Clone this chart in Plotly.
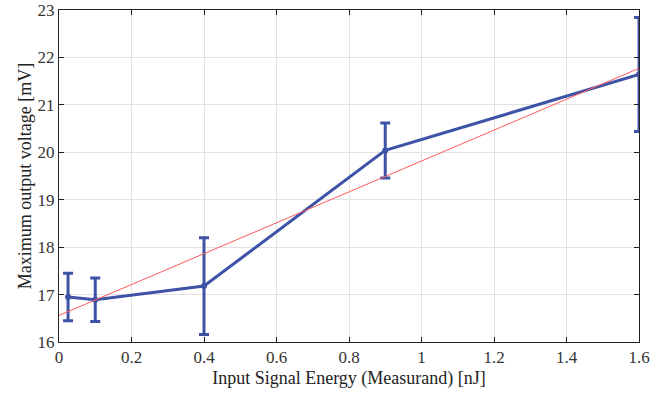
import plotly.graph_objects as go

energy = [0.025, 0.1, 0.4, 0.9, 1.6]
voltage = [16.95, 16.89, 17.18, 20.04, 21.64]
err = [0.5, 0.46, 1.02, 0.58, 1.2]
fit_x = [0.0, 1.6]
fit_y = [16.56, 21.77]
x_ticks = [0, 0.2, 0.4, 0.6, 0.8, 1.0, 1.2, 1.4, 1.6]
x_labels = ["0", "0.2", "0.4", "0.6", "0.8", "1", "1.2", "1.4", "1.6"]
y_ticks = [16, 17, 18, 19, 20, 21, 22, 23]

blue = "rgb(62,82,166)"
fig = go.Figure()
fig.add_trace(go.Scatter(
    x=energy, y=voltage, mode="lines+markers",
    line=dict(color=blue, width=3),
    marker=dict(color=blue, size=6),
    error_y=dict(type="data", array=err, visible=True, color=blue, thickness=3, width=5),
    showlegend=False))
fig.add_trace(go.Scatter(
    x=fit_x, y=fit_y, mode="lines",
    line=dict(color="rgb(255,90,90)", width=1), showlegend=False))

axis_common = dict(
    showline=True, linecolor="#222", linewidth=1, mirror="ticks",
    ticks="inside", ticklen=5, tickcolor="#222",
    showgrid=True, gridcolor="#e2e2e2", gridwidth=1, zeroline=False,
    automargin=False,
    tickfont=dict(family="Liberation Serif", size=17, color="#333"),
)
fig.update_xaxes(range=[0, 1.6], tickvals=x_ticks, ticktext=x_labels,
                 title=dict(text="Input Signal Energy (Measurand) [nJ]",
                            font=dict(family="Liberation Serif", size=18, color="#222"), standoff=4),
                 **axis_common)
fig.update_yaxes(range=[16, 23], tickvals=y_ticks,
                 title=dict(text="Maximum output voltage [mV]",
                            font=dict(family="Liberation Serif", size=18, color="#222"), standoff=1),
                 **axis_common)
fig.update_layout(
    width=665, height=394,
    margin=dict(l=59, r=26, t=10, b=52),
    plot_bgcolor="white", paper_bgcolor="white",
)
fig.write_html("out.html", config={"displayModeBar": False},
               post_script="document.body.style.margin='0';")
